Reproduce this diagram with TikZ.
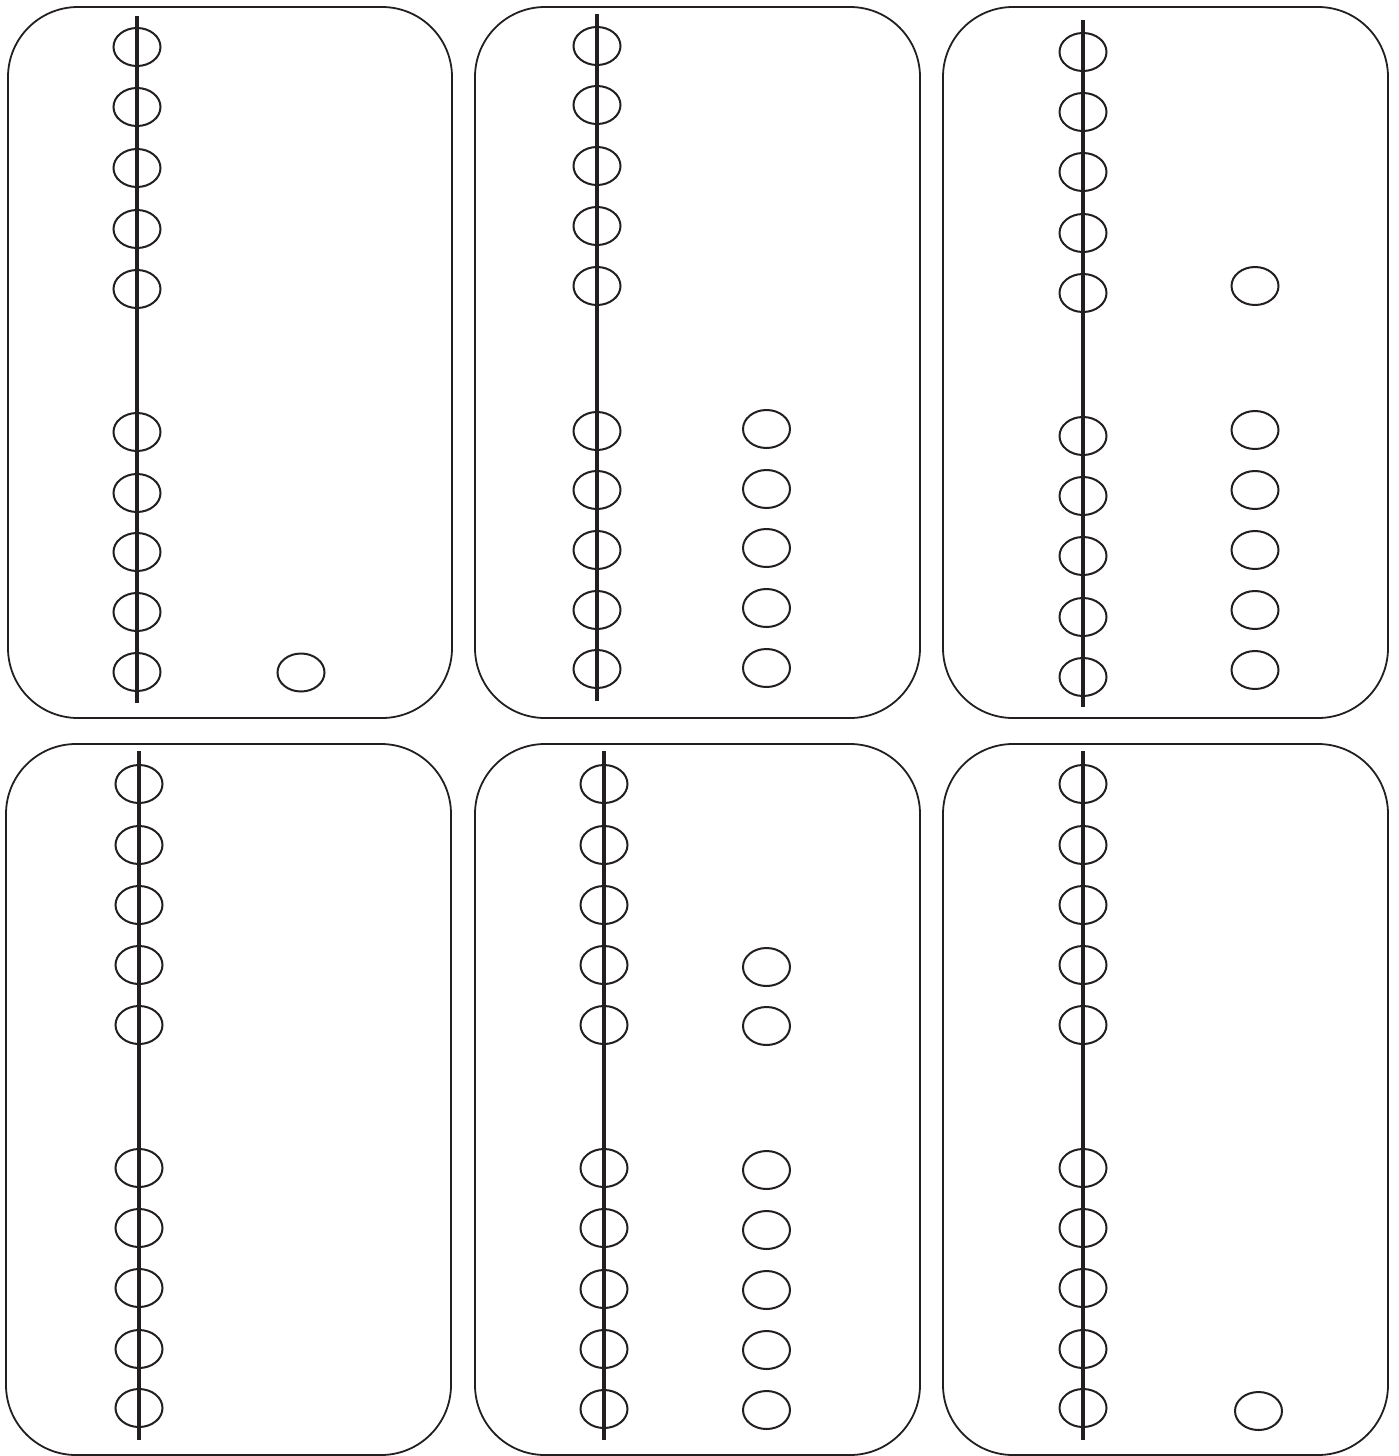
\documentclass[tikz,border=0pt]{standalone}
\usetikzlibrary{shapes.geometric}
\definecolor{ink}{HTML}{231F20}
\begin{document}
\begin{tikzpicture}[x=1pt,y=-1pt,
  panel/.style={draw=ink,line width=1.8pt,rectangle,rounded corners=70pt,inner sep=0pt},
  bead/.style={draw=ink,line width=2pt,ellipse,minimum width=47pt,minimum height=38pt,inner sep=0pt},
  rod/.style={draw=ink,line width=4.5pt}]
\useasboundingbox (0,0) rectangle (1399,1456);
% panels
\node[panel,minimum width=444pt,minimum height=711pt] (P1) at (230,362.5) {};
\node[panel,minimum width=445pt,minimum height=711pt] (P2) at (697.5,362.5) {};
\node[panel,minimum width=445pt,minimum height=711pt] (P3) at (1165.5,362.5) {};
\node[panel,minimum width=445pt,minimum height=711pt] (P4) at (228.5,1099.5) {};
\node[panel,minimum width=445pt,minimum height=711pt] (P5) at (697.5,1099.5) {};
\node[panel,minimum width=445pt,minimum height=711pt] (P6) at (1165.5,1099.5) {};
% panel 1
\foreach \y [count=\i] in {47,107,168,229,289,432,493,552,612,672}
  \node[bead] (a\i) at (137,\y) {};
\node[bead] (ar1) at (301,672.5) {};
\coordinate (at) at (137,16); \coordinate (ab) at (137,703);
\draw[rod] (at) -- (ab);
% panel 2
\foreach \y [count=\i] in {46,105,166,226,286,431,490,550,610,669}
  \node[bead] (b\i) at (597,\y) {};
\foreach \y [count=\i] in {429,489,548,608,668}
  \node[bead] (br\i) at (766.5,\y) {};
\coordinate (bt) at (597,14); \coordinate (bb) at (597,701);
\draw[rod] (bt) -- (bb);
% panel 3
\foreach \y [count=\i] in {52,112,172,233,293,436,496,556,617,677}
  \node[bead] (c\i) at (1083,\y) {};
\foreach \y [count=\i] in {286,430,490,550,610,670}
  \node[bead] (cr\i) at (1255,\y) {};
\coordinate (ct) at (1083,20); \coordinate (cb) at (1083,707);
\draw[rod] (ct) -- (cb);
% panel 4
\foreach \y [count=\i] in {784,845,905,965,1025,1168,1228,1288,1349,1408}
  \node[bead] (d\i) at (139,\y) {};
\coordinate (dt) at (139,751); \coordinate (db) at (139,1440);
\draw[rod] (dt) -- (db);
% panel 5
\foreach \y [count=\i] in {784,845,905,965,1025,1168,1228,1289,1349,1409}
  \node[bead] (e\i) at (604,\y) {};
\foreach \y [count=\i] in {967,1026,1170,1230,1290,1350,1410}
  \node[bead] (er\i) at (766.5,\y) {};
\coordinate (et) at (604,751); \coordinate (eb) at (604,1440);
\draw[rod] (et) -- (eb);
% panel 6
\foreach \y [count=\i] in {784,845,905,965,1025,1168,1228,1288,1349,1408}
  \node[bead] (f\i) at (1083,\y) {};
\node[bead] (fr1) at (1258.5,1411) {};
\coordinate (ft) at (1083,751); \coordinate (fb) at (1083,1440);
\draw[rod] (ft) -- (fb);
\end{tikzpicture}
\end{document}
